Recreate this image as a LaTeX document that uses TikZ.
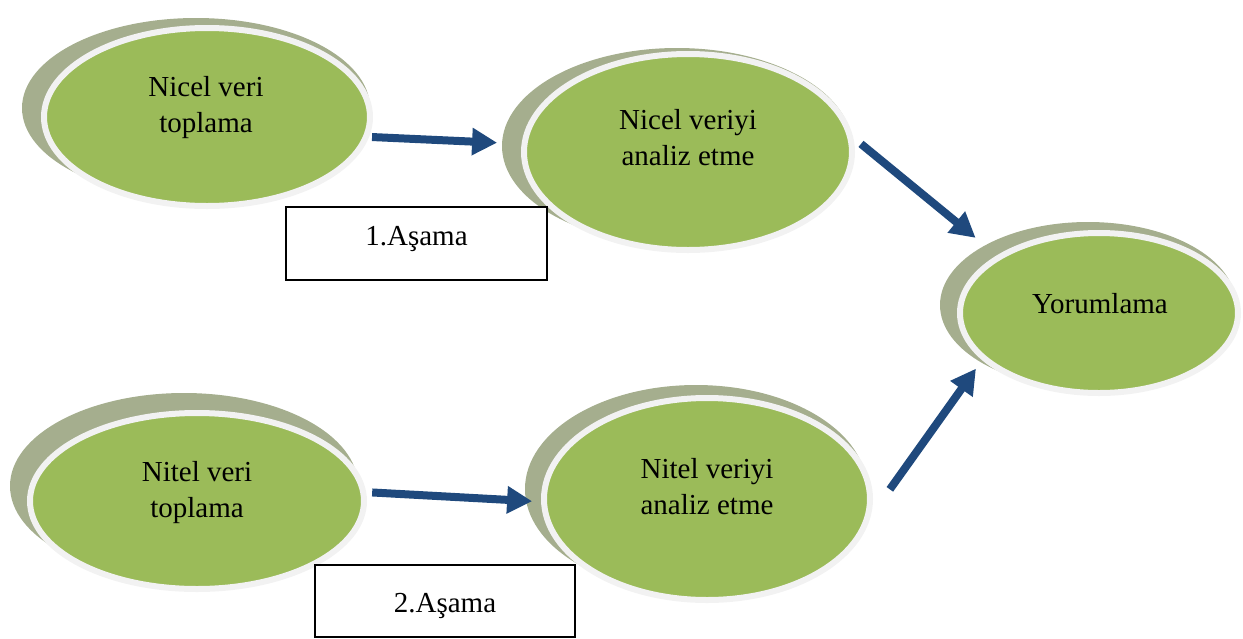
\documentclass[tikz,border=0pt]{standalone}
\usepackage{fontspec}
\setmainfont{Liberation Serif}
\usetikzlibrary{arrows.meta,shapes.geometric}
\definecolor{leafgreen}{HTML}{9BBB59}
\definecolor{ringgray}{HTML}{F2F2F2}
\definecolor{shadowolive}{HTML}{A5AE8E}
\definecolor{arrowblue}{HTML}{1F497D}
\tikzset{
  shadowell/.style={ellipse, fill=shadowolive, draw=none, inner sep=0pt, outer sep=0pt},
  greenell/.style={ellipse, fill=leafgreen, draw=ringgray, line width=6pt, inner sep=0pt},
  txt/.style={align=center, font=\fontsize{29}{36}\selectfont, inner sep=0pt},
  stagebox/.style={draw=black, line width=2pt, fill=white, inner sep=0pt, font=\fontsize{29}{36}\selectfont},
  flow/.style={draw=arrowblue, line width=8pt, -{Triangle[length=25pt,width=26pt]}}
}
\begin{document}
\begin{tikzpicture}[x=1pt,y=-1pt]
\useasboundingbox (0,0) rectangle (1243,638);
% shadows
\node[shadowell, minimum width=348pt, minimum height=180pt] (s1) at (196,108) {};
\node[shadowell, minimum width=350pt, minimum height=196pt] (s2) at (677,146) {};
\node[shadowell, minimum width=296pt, minimum height=166pt] (s3) at (1088,305) {};
\node[shadowell, minimum width=348pt, minimum height=186pt] (s4) at (184,486) {};
\node[shadowell, minimum width=342pt, minimum height=208pt] (s5) at (696,489) {};
% ellipses
\node[greenell, minimum width=326pt, minimum height=178pt] (e1) at (207,117) {};
\node[greenell, minimum width=328pt, minimum height=196pt] (e2) at (688,152) {};
\node[greenell, minimum width=278pt, minimum height=160pt] (e3) at (1099,313) {};
\node[greenell, minimum width=334pt, minimum height=176pt] (e4) at (197,501) {};
\node[greenell, minimum width=326pt, minimum height=202pt] (e5) at (707,499) {};
% texts
\node[txt] (t1) at (206,106.8) {\strut Nicel veri\\\strut toplama};
\node[txt] (t2) at (688,139.8) {\strut Nicel veriyi\\\strut analiz etme};
\node[txt] (t3) at (1100,305.8) {\strut Yorumlama};
\node[txt] (t4) at (197,492.3) {\strut Nitel veri\\\strut toplama};
\node[txt] (t5) at (707,489.3) {\strut Nitel veriyi\\\strut analiz etme};
% stage boxes
\node[stagebox, minimum width=261pt, minimum height=73pt, text height=20pt, text depth=17pt] (b1) at (416.5,243.5) {1.Aşama};
\node[stagebox, minimum width=260pt, minimum height=72pt, text height=28pt, text depth=6pt] (b2) at (445,601) {2.Aşama};
% arrows
\draw[flow, shorten <=3pt, shorten >=5pt] (e1.-7) -- (s2.179);
\draw[flow, shorten <=10pt, shorten >=12pt] (e2.5) -- (s3.150);
\draw[flow, shorten <=6pt, shorten >=-6pt] (e4.3) -- (s5.184);
\draw[flow, shorten <=33pt, shorten >=8pt] (e5.-6) -- (s3.208);
\end{tikzpicture}
\end{document}
